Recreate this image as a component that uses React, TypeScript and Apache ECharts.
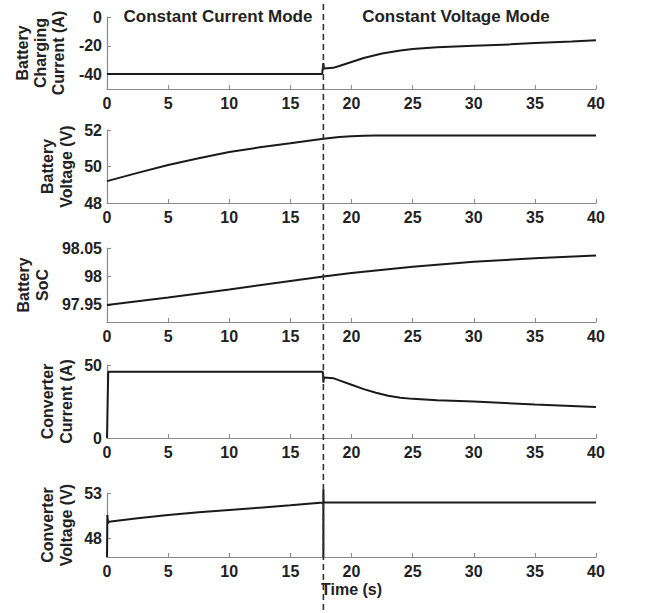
import React, { useEffect, useRef } from "react";
import * as echarts from "echarts";

// Time axis ticks
const X_MIN = 0;
const X_MAX = 40;
const X_STEP = 5;
const MODE_SWITCH_T = 17.7;

// Battery charging current (A)
const bcT = [0, 5, 10, 15, 17.6, 17.7, 17.75, 18.5, 19, 20, 21, 22.5, 24, 25, 27, 30, 33, 35, 38, 40];
const bcV = [-39.5, -39.5, -39.5, -39.5, -39.5, -32, -35.8, -35.3, -34, -31.2, -28.5, -25.4, -23.3, -22.3, -21, -20, -19, -18, -17, -16.1];

// Battery voltage (V)
const bvT = [0, 2.5, 5, 7.5, 10, 12.5, 15, 17.7, 19, 20, 21, 22, 25, 30, 35, 40];
const bvV = [49.2, 49.65, 50.08, 50.45, 50.8, 51.05, 51.27, 51.52, 51.62, 51.66, 51.68, 51.7, 51.7, 51.7, 51.7, 51.7];

// Battery SoC
const socT = [0, 5, 10, 15, 17.7, 20, 25, 30, 35, 40];
const socV = [97.95, 97.963, 97.977, 97.992, 98.0, 98.006, 98.017, 98.026, 98.032, 98.037];

// Converter current (A)
const ccT = [0, 0.1, 5, 10, 15, 17.65, 17.7, 17.75, 18.5, 19, 20, 21, 22, 23, 24, 25, 27, 30, 35, 40];
const ccV = [0, 45.3, 45.3, 45.3, 45.3, 45.3, 38, 41.5, 41, 39.5, 36.5, 33.5, 31, 29, 27.5, 26.8, 25.8, 25, 23, 21.3];

// Converter voltage (V)
const cvT = [0, 0.03, 0.08, 0.15, 2.5, 5, 7.5, 10, 12.5, 15, 17.7, 17.7, 17.7, 17.72, 20, 25, 30, 35, 40];
const cvV = [46, 50.6, 49.7, 49.85, 50.25, 50.6, 50.9, 51.15, 51.4, 51.65, 51.95, 46, 53.4, 51.95, 51.95, 51.95, 51.95, 51.95, 51.95];

// Y axis setup
const yMins = [-50, 48, 97.92, 0, 46];
const yMaxs = [0, 52, 98.05, 50, 53];
const yTicks = [[0, -20, -40], [48, 50, 52], [97.95, 98, 98.05], [0, 50], [48, 53]];
const yNames = [
  ["Battery", "Charging", "Current (A)"],
  ["Battery", "Voltage (V)"],
  ["Battery", "SoC"],
  ["Converter", "Current (A)"],
  ["Converter", "Voltage (V)"],
];
const titles = ["Constant Current Mode", "Constant Voltage Mode"];
const xName = "Time (s)";

const seriesT = [bcT, bvT, socT, ccT, cvT];
const seriesV = [bcV, bvV, socV, ccV, cvV];

const FONT = "'Liberation Sans', Arial, sans-serif";
const TXT = "#222";

export default function App() {
  const ref = useRef<HTMLDivElement>(null);
  useEffect(() => {
    document.body.style.margin = "0";
    const chart = echarts.init(ref.current!, null, { renderer: "svg" });
    const tops = [17, 130, 248, 365, 493];
    const heights = [72, 73, 74, 73, 64];
    const grids = tops.map((t, i) => ({ left: 107, right: 66, top: t, height: heights[i] }));
    const xAxes = tops.map((_, i) => ({
      type: "value",
      gridIndex: i,
      min: X_MIN,
      max: X_MAX,
      interval: X_STEP,
      splitLine: { show: false },
      axisLine: { show: true, onZero: false, lineStyle: { color: "#8a8a8a", width: 1.2 } },
      axisTick: { show: true, inside: true, length: 4, lineStyle: { color: "#8a8a8a" } },
      axisLabel: { color: TXT, fontWeight: "bold", fontSize: 16, fontFamily: FONT, margin: 6 },
      name: i === 4 ? xName : "",
      nameLocation: "middle",
      nameGap: 24,
      nameTextStyle: { color: TXT, fontWeight: "bold", fontSize: 16, fontFamily: FONT },
    }));
    const yAxes = tops.map((_, i) => ({
      type: "value",
      gridIndex: i,
      min: yMins[i],
      max: yMaxs[i],
      splitLine: { show: false },
      axisLine: { show: true, onZero: false, lineStyle: { color: "#8a8a8a", width: 1.2 } },
      axisTick: { show: true, inside: true, length: 4, customValues: yTicks[i], lineStyle: { color: "#8a8a8a" } },
      axisLabel: {
        color: TXT, fontWeight: "bold", fontSize: 16, fontFamily: FONT, margin: 5,
        customValues: yTicks[i],
        formatter: (v: number) => String(Math.round(v * 1000) / 1000),
      },
    }));
    const series = seriesT.map((ts, i) => ({
      type: "line",
      xAxisIndex: i,
      yAxisIndex: i,
      showSymbol: false,
      clip: false,
      lineStyle: { color: "#1a1a1a", width: 2 },
      data: ts.map((t, j) => [t, seriesV[i][j]]),
    }));
    chart.setOption({
      animation: false,
      backgroundColor: "#fff",
      grid: grids,
      xAxis: xAxes,
      yAxis: yAxes,
      series,
    });
    const px = chart.convertToPixel({ gridIndex: 0 }, [MODE_SWITCH_T, 0]) as number[];
    const textEls: any[] = [];
    const labelCentersX = [
      [22, 40, 58],
      [47, 66],
      [23, 42],
      [47, 66],
      [47, 66],
    ];
    yNames.forEach((lines, i) => {
      const cy = tops[i] + heights[i] / 2;
      lines.forEach((ln, k) => {
        textEls.push({
          type: "text",
          x: labelCentersX[i][k],
          y: cy,
          rotation: Math.PI / 2,
          style: {
            text: ln, fill: TXT, font: `bold 16px ${FONT}`,
            align: "center", verticalAlign: "middle",
          },
        });
      });
    });
    const titleX = [218, 456];
    titles.forEach((t, i) => {
      textEls.push({
        type: "text",
        x: titleX[i],
        y: 16,
        style: { text: t, fill: TXT, font: `bold 17px ${FONT}`, align: "center", verticalAlign: "middle" },
      });
    });
    textEls.push({
      type: "line",
      shape: { x1: px[0], y1: 4, x2: px[0], y2: 613 },
      style: { stroke: "#333", lineWidth: 1.6, lineDash: [6, 4] },
      z: 10,
    });
    chart.setOption({ graphic: textEls });
    return () => chart.dispose();
  }, []);
  return <div ref={ref} style={{ width: 662, height: 613 }} />;
}
